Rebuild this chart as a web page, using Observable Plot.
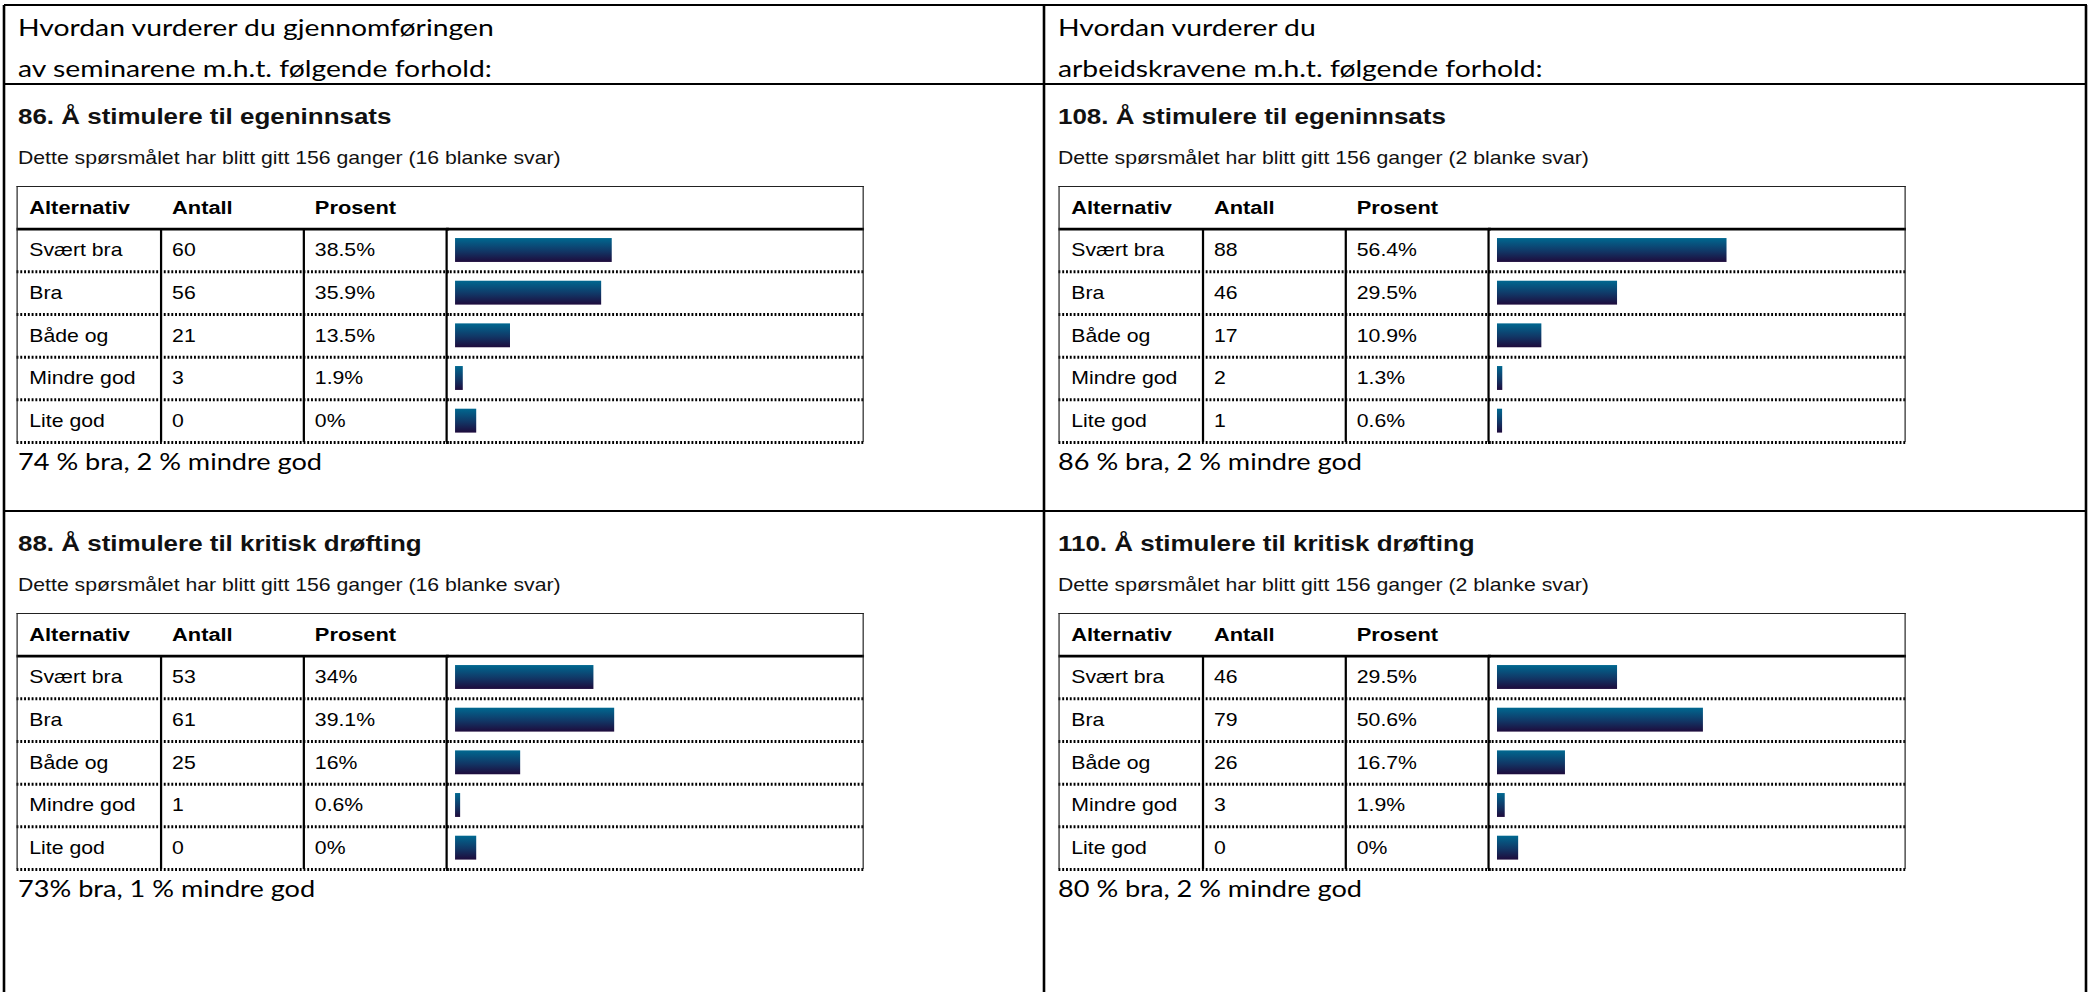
<!DOCTYPE html>
<html>
<head>
<meta charset="utf-8">
<script src="https://cdn.jsdelivr.net/npm/d3@7"></script>
<script src="https://cdn.jsdelivr.net/npm/@observablehq/plot@0.6"></script>
<style>
  html, body { margin: 0; padding: 0; background: #fff; width: 2098px; height: 992px; overflow: hidden; }
  #page { position: absolute; left: 0; top: 0; width: 1778px; height: 992px; transform: scaleX(1.18); transform-origin: 0 0; }
  .tbl { position: absolute; }
  .tbl > * { position: absolute; top: 0; }
  .tblborder { border-top: 1px solid #222; border-left: 1px solid #222; border-right: 1px solid #222; box-sizing: border-box; pointer-events: none; }
</style>
</head>
<body>
<div id="page"></div>
<script>
// ---------- data ----------
const categories = ["Svært bra", "Bra", "Både og", "Mindre god", "Lite god"];
const columns = ["Alternativ", "Antall", "Prosent"];
const sectionHeadings = [
  ["Hvordan vurderer du gjennomføringen", "av seminarene m.h.t. følgende forhold:"],
  ["Hvordan vurderer du", "arbeidskravene m.h.t. følgende forhold:"]
];
const questionNumbers = [86, 108, 88, 110];
const questionTitles = [
  "Å stimulere til egeninnsats", "Å stimulere til egeninnsats",
  "Å stimulere til kritisk drøfting", "Å stimulere til kritisk drøfting"
];
const timesAsked = [156, 156, 156, 156];
const blankAnswers = [16, 2, 16, 2];
const counts86 = [60, 56, 21, 3, 0];
const percent86 = [38.5, 35.9, 13.5, 1.9, 0];
const counts108 = [88, 46, 17, 2, 1];
const percent108 = [56.4, 29.5, 10.9, 1.3, 0.6];
const counts88 = [53, 61, 25, 1, 0];
const percent88 = [34, 39.1, 16, 0.6, 0];
const counts110 = [46, 79, 26, 3, 0];
const percent110 = [29.5, 50.6, 16.7, 1.9, 0];
const summaries = [
  "74 % bra, 2 % mindre god", "86 % bra, 2 % mindre god",
  "73% bra, 1 % mindre god", "80 % bra, 2 % mindre god"
];
const countsByPanel = [counts86, counts108, counts88, counts110];
const percentByPanel = [percent86, percent108, percent88, percent110];

// ---------- layout (reference pixels; x divided by stretch) ----------
const S = 1.18;
const W = 2098 / S;
const colTextX = [18, 1058];
const tableX = [16, 1058];
const panelDY = [0, 0, 427, 427];
const TABLE_W = 848 / S, TABLE_H = 256;
const TEXT_COLS_W = 430 / S, PAD = 11 / S;
const BAR_PAD = 9 / S, BAR_SPAN = 407 / S;
const ZERO_STUB = 5.2, MIN_BAR = 1.25;
const ARIAL = "'Liberation Sans', Arial, Helvetica, sans-serif";
const CAL = "Lato, 'Open Sans', sans-serif";

const page = document.getElementById("page");

// overlay svg for frame lines and texts
const ov = d3.select(page).append("svg")
  .attr("width", W).attr("height", 992)
  .style("position", "absolute").style("left", 0).style("top", 0);

const defs = ov.append("defs");
const grad = defs.append("linearGradient").attr("id", "barGrad")
  .attr("x1", 0).attr("y1", 0).attr("x2", 0).attr("y2", 1);
grad.append("stop").attr("offset", "0%").attr("stop-color", "#006890");
grad.append("stop").attr("offset", "55%").attr("stop-color", "#113766");
grad.append("stop").attr("offset", "100%").attr("stop-color", "#1e0b3c");

const lineG = ov.append("g").attr("stroke", "#000").attr("stroke-width", 2.2).attr("fill", "none");
const hl = (y, x1, x2) => lineG.append("line").attr("x1", x1 / S).attr("x2", x2 / S).attr("y1", y).attr("y2", y);
const vl = (x, y1, y2) => lineG.append("line").attr("x1", x / S).attr("x2", x / S).attr("y1", y1).attr("y2", y2);
hl(5, 4, 2087); hl(84, 4, 2087); hl(511, 4, 2087);
vl(4, 5, 1000); vl(2086, 5, 1000); vl(1044, 5, 1000);

const txt = ov.append("g");
sectionHeadings.forEach((lines, c) => {
  lines.forEach((t, k) => {
    txt.append("text").attr("x", colTextX[c] / S).attr("y", [36, 77][k])
      .attr("font-family", CAL).attr("font-size", 24).attr("fill", "#000").text(t);
  });
});

questionNumbers.forEach((q, i) => {
  const c = i % 2, dy = panelDY[i];
  txt.append("text").attr("x", colTextX[c] / S).attr("y", 124 + dy)
    .attr("font-family", ARIAL).attr("font-weight", "bold").attr("font-size", 22).attr("fill", "#111")
    .text(`${q}. ${questionTitles[i]}`);
  txt.append("text").attr("x", colTextX[c] / S).attr("y", 164 + dy)
    .attr("font-family", ARIAL).attr("font-size", 18).attr("fill", "#111")
    .text(`Dette spørsmålet har blitt gitt ${timesAsked[i]} ganger (${blankAnswers[i]} blanke svar)`);
  txt.append("text").attr("x", colTextX[c] / S).attr("y", 470 + dy)
    .attr("font-family", CAL).attr("font-size", 23).attr("fill", "#000")
    .text(summaries[i]);
  drawTable(i, tableX[c] / S, 186 + dy);
});

function drawTable(i, left, top) {
  const counts = countsByPanel[i], pct = percentByPanel[i];
  const rows = categories.map((c, k) => ({alt: c, count: counts[k], pct: pct[k], row: k + 1.5}));
  const cells = rows.flatMap(r => [
    {col: "Alternativ", row: r.row, label: r.alt},
    {col: "Antall", row: r.row, label: String(r.count)},
    {col: "Prosent", row: r.row, label: `${r.pct}%`}
  ]);
  const heads = columns.map(c => ({col: c, row: 0.5, label: c}));
  const bounds = categories.map((c, k) => k + 2);
  const dotted = {stroke: "#000", strokeWidth: 3, strokeDasharray: "1.6 1.6"};
  const style = {background: "transparent", overflow: "visible", fontFamily: ARIAL, fontSize: "18px", color: "#000"};

  const textPlot = Plot.plot({
    width: TEXT_COLS_W + 2, height: TABLE_H + 2, margin: 0,
    x: {type: "point", domain: [...columns, "Fordeling"], range: [0, TEXT_COLS_W], padding: 0, axis: null},
    y: {domain: [0, 6], range: [0, TABLE_H], axis: null},
    style,
    marks: [
      Plot.ruleY([1], {stroke: "#000", strokeWidth: 2.8}),
      Plot.ruleY(bounds, dotted),
      Plot.ruleX(["Antall", "Prosent", "Fordeling"], {y1: () => 1, y2: () => 6, stroke: "#000", strokeWidth: 1.9}),
      Plot.text(heads, {x: "col", y: "row", text: "label", textAnchor: "start", dx: PAD, fontWeight: "bold", fontSize: 18.5}),
      Plot.text(cells, {x: "col", y: "row", text: "label", textAnchor: "start", dx: PAD, fontSize: 18})
    ]
  });

  const barW = TABLE_W - TEXT_COLS_W;
  const barPlot = Plot.plot({
    width: barW, height: TABLE_H + 2, margin: 0,
    x: {domain: [0, 100], range: [BAR_PAD, BAR_PAD + BAR_SPAN], axis: null},
    y: {domain: [0, 6], range: [0, TABLE_H], axis: null},
    style,
    marks: [
      Plot.ruleY([1], {stroke: "#000", strokeWidth: 2.8}),
      Plot.ruleY(bounds, dotted),
      Plot.rect(rows, {
        x1: () => 0,
        x2: d => d.pct === 0 ? ZERO_STUB : Math.max(d.pct, MIN_BAR),
        y1: d => d.row - 0.28, y2: d => d.row + 0.28,
        fill: "url(#barGrad)"
      })
    ]
  });

  const wrap = d3.select(page).append("div").attr("class", "tbl")
    .style("left", left + "px").style("top", top + "px")
    .style("width", TABLE_W + "px").style("height", TABLE_H + "px");
  const tp = wrap.node().appendChild(textPlot);
  tp.style.left = "0px";
  const bp = wrap.node().appendChild(barPlot);
  bp.style.left = TEXT_COLS_W + "px";
  wrap.append("div").attr("class", "tblborder")
    .style("left", "0px").style("top", "0px")
    .style("width", TABLE_W + "px").style("height", TABLE_H + "px");
}
</script>
</body>
</html>
